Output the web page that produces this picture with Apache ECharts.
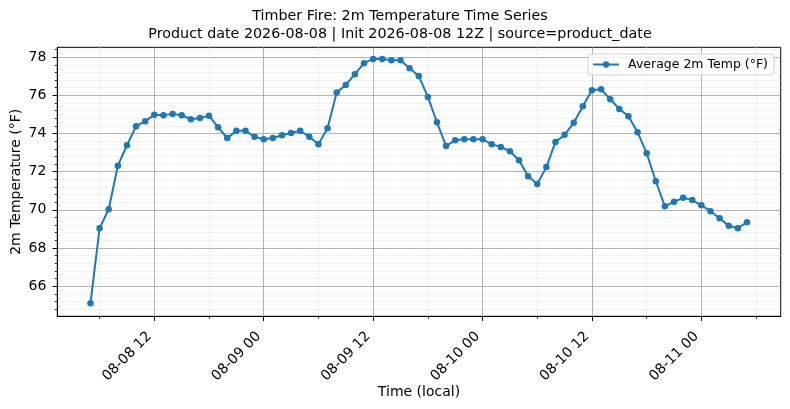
<!DOCTYPE html>
<html>
<head>
<meta charset="utf-8">
<title>Timber Fire: 2m Temperature Time Series</title>
<script src="https://cdn.jsdelivr.net/npm/echarts@6/dist/echarts.min.js"></script>
<style>
  html, body { margin: 0; padding: 0; background: #fff; }
  #chart { width: 790px; height: 409px; }
</style>
</head>
<body>
<div id="chart"></div>
<script>
// hours are counted from 2026-08-08 00:00 (local), one reading per hour
var startHour = 5;
var temps = [
  65.11, 69.04, 70.03, 72.31, 73.39, 74.38, 74.65, 74.98, 74.96, 75.03,
  74.96, 74.75, 74.82, 74.93, 74.33, 73.76, 74.14, 74.14, 73.83, 73.70,
  73.77, 73.91, 74.03, 74.14, 73.83, 73.44, 74.28, 76.15, 76.55, 77.11,
  77.69, 77.91, 77.91, 77.84, 77.84, 77.42, 77.02, 75.92, 74.59, 73.34,
  73.65, 73.70, 73.70, 73.70, 73.44, 73.30, 73.07, 72.60, 71.76, 71.35,
  72.24, 73.56, 73.93, 74.56, 75.43, 76.27, 76.32, 75.80, 75.29, 74.91,
  74.07, 72.97, 71.50, 70.19, 70.42, 70.63, 70.51, 70.24, 69.93, 69.56,
  69.16, 69.04, 69.35
];
var xMajorTicks = [12, 24, 36, 48, 60, 72];
var xMinorTicks = [6, 18, 30, 42, 54, 66, 78];
var yMajorTicks = [66, 68, 70, 72, 74, 76, 78];

var yMinorTicks = [];
for (var k = 162; k <= 196; k++) {
  if (k % 5 !== 0) yMinorTicks.push(+(k * 0.4).toFixed(1));
}

var seriesData = temps.map(function (t, i) { return [startHour + i, t]; });

function pad(n) { return (n < 10 ? '0' : '') + n; }
function hourLabel(h) {
  var day = 8 + Math.floor(h / 24);
  return '08-' + pad(day) + ' ' + pad(h % 24);
}

var FONT = 'DejaVu Sans';
var xMin = 1.36, xMax = 80.7, yMin = 64.42, yMax = 78.52;

var myChart = echarts.init(document.getElementById('chart'));
myChart.setOption({
  animation: false,
  textStyle: { fontFamily: FONT },
  title: {
    text: 'Timber Fire: 2m Temperature Time Series\nProduct date 2026-08-08 | Init 2026-08-08 12Z | source=product_date',
    left: 400,
    textAlign: 'center',
    top: 7,
    padding: 0,
    textStyle: { fontFamily: FONT, fontSize: 14.3, fontWeight: 'normal', color: '#000', lineHeight: 18 }
  },
  legend: {
    data: ['Average 2m Temp (°F)'],
    right: 16,
    top: 54,
    padding: [4, 6, 4, 4],
    itemWidth: 26,
    itemHeight: 8,
    borderColor: '#d0d0d0',
    borderWidth: 1,
    borderRadius: 3,
    backgroundColor: 'rgba(255,255,255,0.8)',
    textStyle: { fontFamily: FONT, fontSize: 12.5, color: '#000', padding: [0, 0, 0, 4] }
  },
  grid: {
    left: 57.3, right: 9.3, top: 47.3, bottom: 92.7,
    containLabel: false,
    outerBoundsMode: 'none',
    show: true, borderColor: '#000', borderWidth: 1, backgroundColor: 'transparent'
  },
  xAxis: [
    {
      type: 'value', min: xMin, max: xMax, position: 'bottom',
      axisLine: { show: false },
      axisTick: { show: true, customValues: xMinorTicks, length: 2.6, lineStyle: { color: '#000', width: 0.8 } },
      axisLabel: { show: false },
      splitLine: { show: true, lineStyle: { color: '#d6d6d6', width: 0.7, type: 'dotted' } }
    },
    {
      type: 'value', min: xMin, max: xMax, position: 'bottom',
      name: 'Time (local)', nameLocation: 'middle', nameGap: 69, nameMoveOverlap: false,
      nameTextStyle: { fontFamily: FONT, fontSize: 14, color: '#000' },
      axisLine: { show: true, onZero: false, lineStyle: { color: '#000', width: 1 } },
      axisTick: { show: true, customValues: xMajorTicks, length: 4.7, lineStyle: { color: '#000', width: 1 } },
      axisLabel: {
        customValues: xMajorTicks, rotate: 45, margin: 13,
        padding: [0, 7, 0, 0],
        fontFamily: FONT, fontSize: 14, color: '#000',
        formatter: function (v) { return hourLabel(v); }
      },
      splitLine: { show: true, lineStyle: { color: '#a0a0a0', width: 0.8 } }
    }
  ],
  yAxis: [
    {
      type: 'value', min: yMin, max: yMax, position: 'left',
      axisLine: { show: false },
      axisTick: { show: true, customValues: yMinorTicks, length: 2.6, lineStyle: { color: '#000', width: 0.8 } },
      axisLabel: { show: false },
      splitLine: { show: true, lineStyle: { color: '#d6d6d6', width: 0.7, type: 'dotted' } }
    },
    {
      type: 'value', min: yMin, max: yMax, position: 'left',
      name: '2m Temperature (°F)', nameLocation: 'middle', nameGap: 34, nameMoveOverlap: false,
      nameTextStyle: { fontFamily: FONT, fontSize: 14, color: '#000' },
      axisLine: { show: true, onZero: false, lineStyle: { color: '#000', width: 1 } },
      axisTick: { show: true, customValues: yMajorTicks, length: 4.7, lineStyle: { color: '#000', width: 1 } },
      axisLabel: { customValues: yMajorTicks, margin: 11, fontFamily: FONT, fontSize: 14, color: '#000' },
      splitLine: { show: true, lineStyle: { color: '#a0a0a0', width: 0.8 } }
    }
  ],
  series: [
    {
      name: 'Average 2m Temp (°F)',
      type: 'line',
      xAxisIndex: 1,
      yAxisIndex: 1,
      data: seriesData,
      symbol: 'circle',
      symbolSize: 6.5,
      showAllSymbol: true,
      color: '#1f77b4',
      lineStyle: { color: '#1f77b4', width: 2 },
      itemStyle: { color: '#1f77b4' }
    }
  ]
});
</script>
</body>
</html>
